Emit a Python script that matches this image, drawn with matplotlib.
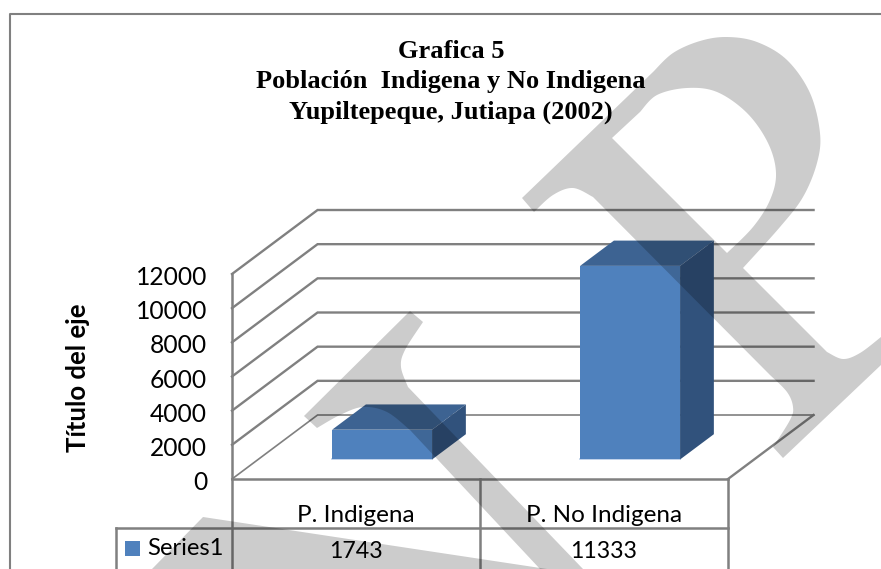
import numpy as np
import matplotlib
matplotlib.use('Agg')
import matplotlib.pyplot as plt
from matplotlib.lines import Line2D
from matplotlib.patches import PathPatch
from matplotlib.path import Path
from matplotlib.transforms import Affine2D

# Data
categories = ['P. Indigena', 'P. No Indigena']
values = [1743, 11333]
series_name = 'Series1'
y_ticks = [0, 2000, 4000, 6000, 8000, 10000, 12000]
title = 'Grafica 5\nPoblación  Indigena y No Indigena\nYupiltepeque, Jutiapa (2002)'
y_label = 'Título del eje'

W, H = 881, 569
LINE = '#808080'
FRONT, TOP, SIDE = '#4F81BD', '#3D6392', '#31527C'

# how far the back wall is shifted from the front plane
DEPTH_X = 0.345
DEPTH_Y = 3746
BAR_W = 0.403
BAR_D0, BAR_D1 = 0.305, 0.70
TABLE_ROW = -2870
TABLE_END = -5270
TABLE_LEFT = -0.468


def smooth(pts, n=12):
    # catmull-rom through the traced points of the watermark
    p = np.array(pts, dtype=float)
    p = np.vstack([p[0], p, p[-1]])
    out = []
    for i in range(1, len(p) - 2):
        for t in np.linspace(0, 1, n, endpoint=False):
            out.append(0.5 * (2 * p[i] + (p[i + 1] - p[i - 1]) * t
                              + (2 * p[i - 1] - 5 * p[i] + 4 * p[i + 1] - p[i + 2]) * t ** 2
                              + (3 * p[i] - p[i - 1] - 3 * p[i + 1] + p[i + 2]) * t ** 3))
    out.append(p[-2])
    return out


def closed(verts):
    verts = np.array(verts)
    return Path(np.vstack([verts, verts[0]]), closed=True)


fig = plt.figure(figsize=(W / 100, H / 100), dpi=100)
ax = fig.add_axes([232 / W, (H - 479) / H, 496 / W, 205 / H])
ax.set_xlim(0, 2)
ax.set_ylim(0, 12000)
ax.patch.set_visible(False)
for s in ax.spines.values():
    s.set_visible(False)

# walls and gridlines
for i, v in enumerate(y_ticks):
    lw = 1.2 if i == 0 else 1.7
    ax.plot([0, DEPTH_X, 2 + DEPTH_X], [v, v + DEPTH_Y, v + DEPTH_Y],
            color=LINE, lw=lw, clip_on=False, zorder=1, solid_joinstyle='miter')
ax.plot([2, 2 + DEPTH_X], [0, DEPTH_Y], color=LINE, lw=1.7, clip_on=False, zorder=1)

# data table
ax.plot([0, 2], [0, 0], color=LINE, lw=1.8, clip_on=False, zorder=1)
ax.plot([TABLE_LEFT, 2], [TABLE_ROW, TABLE_ROW], color=LINE, lw=1.8, clip_on=False, zorder=1)
ax.plot([TABLE_LEFT, TABLE_LEFT], [TABLE_ROW, TABLE_END], color=LINE, lw=1.8, clip_on=False, zorder=1)
for x in [1, 2]:
    ax.plot([x, x], [0, TABLE_END], color=LINE, lw=1.8, clip_on=False, zorder=1)
ax.plot([0, 0], [12000, TABLE_END], color=LINE, lw=1.8, clip_on=False, zorder=1)

# bars as oblique boxes
for i, v in enumerate(values):
    x0 = i + 0.5 - BAR_W / 2 + BAR_D0 * DEPTH_X
    x1 = x0 + BAR_W
    y0 = BAR_D0 * DEPTH_Y
    y1 = y0 + v
    dx = (BAR_D1 - BAR_D0) * DEPTH_X
    dy = (BAR_D1 - BAR_D0) * DEPTH_Y
    ax.fill([x0, x1, x1, x0], [y0, y0, y1, y1], color=FRONT, lw=0, clip_on=False, zorder=3)
    ax.fill([x0, x1, x1 + dx, x0 + dx], [y1, y1, y1 + dy, y1 + dy], color=TOP, lw=0, clip_on=False, zorder=3)
    ax.fill([x1, x1 + dx, x1 + dx, x1], [y0, y0 + dy, y1 + dy, y1], color=SIDE, lw=0, clip_on=False, zorder=3)
    ax.plot([x0, x1], [y0, y0], color='#B5CAE6', lw=1.2, clip_on=False, zorder=2)

# axis texts
ax.set_yticks(y_ticks)
ax.set_yticklabels([str(v) for v in y_ticks], family='Lato', fontsize=17.7, color='black')
ax.tick_params(axis='y', length=0, pad=18)
ax.set_xticks([0.5, 1.5])
ax.set_xticklabels(categories, family='Lato', fontsize=17.5, color='black')
ax.tick_params(axis='x', length=0, pad=18.5)
fig.canvas.draw()
for lab in ax.get_yticklabels():
    lab.set_transform(lab.get_transform() + Affine2D().translate(0, -1.5))
ax.set_ylabel(y_label, family='Lato', fontweight='bold', fontsize=18.5, va='center')
ax.yaxis.set_label_coords((77.5 - 232) / 496, (479 - 377.5) / 205)

# table values
for i, v in enumerate(values):
    ax.annotate(str(v), xy=(i + 0.5, 0), xytext=(0, -73), textcoords='offset pixels',
                ha='center', va='center', family='Lato', fontsize=16.7, annotation_clip=False)
ax.annotate(series_name, xy=(TABLE_LEFT, TABLE_ROW), xytext=(31, -20), textcoords='offset pixels',
            ha='left', va='center', family='Lato', fontsize=17.2, annotation_clip=False)

# legend swatch
px = Affine2D().scale(1, -1).translate(0, H)
fig.add_artist(PathPatch(closed([(125, 541), (140, 541), (140, 556), (125, 556)]),
                         facecolor=FRONT, edgecolor='none', transform=px, zorder=2))

fig.text(451 / W, 1 - 82 / H, title, ha='center', va='center', family='Liberation Serif',
         fontweight='bold', fontsize=19, linespacing=1.4)

# chart frame, runs off the page at right and bottom
fig.add_artist(Line2D([9.5, 9.5, W], [H, 14, 14], color=LINE, lw=1.5, transform=px, zorder=2))

# watermark
outer = ([(522, 198)]
         + smooth([(653, 72), (673, 53), (700, 41), (727, 37), (757, 42), (787, 60), (810, 93), (820, 133),
                   (817, 163), (803, 197), (780, 227), (743, 268)])
         + smooth([(827, 352), (843, 359), (860, 353), (881, 337)])
         + [(881, 365), (783, 458), (773, 447)]
         + smooth([(773, 447), (790, 420), (793, 407), (787, 392), (770, 375)])
         + smooth([(593, 197), (573, 188), (553, 195), (534, 212)]))
counter = [(612, 138)] + smooth([(640, 112), (657, 95), (687, 88), (717, 92), (747, 113), (768, 143),
                                 (776, 173), (770, 200), (753, 227), (727, 253)])
left = (smooth([(423, 322), (405, 350), (401, 367), (408, 387)])
        + [(583, 569), (540, 569)]
        + smooth([(410, 430), (387, 412), (363, 407), (340, 415), (317, 428)])
        + [(304, 416), (410, 311)])
low = [(203, 517), (547, 569), (152, 569)]

wm = Path.make_compound_path(closed(outer), closed(counter[::-1]))
for path in [wm, closed(left), closed(low)]:
    fig.add_artist(PathPatch(path, facecolor='black', alpha=0.2, edgecolor='none', transform=px, zorder=10))

fig.savefig('out.png', dpi=100)
